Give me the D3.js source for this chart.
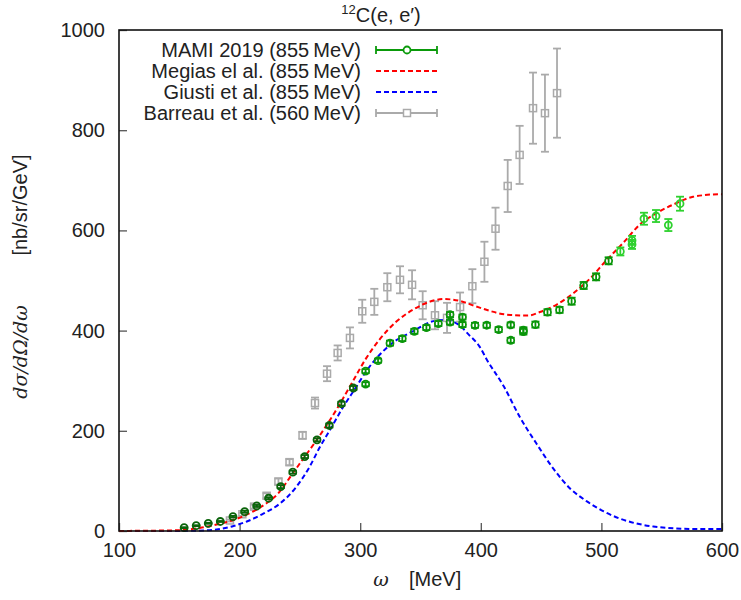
<!DOCTYPE html>
<html>
<head>
<meta charset="UTF-8">
<title>12C(e,e') cross section</title>
<script src="https://cdn.jsdelivr.net/npm/d3@7"></script>
<style>
  body { margin: 0; background: #fff; }
  svg { font-family: "Liberation Sans", Arial, Helvetica, sans-serif; }
</style>
</head>
<body>
<svg id="chart" width="741" height="600"></svg>
<script>
// ---- data: [omega (MeV), dsigma, error] ----
var mamiDark = [
  [154, 6.6, 1], [164, 10.6, 1], [174, 15.4, 1], [184, 19, 1], [194.5, 28.6, 1.5],
  [204.2, 38.6, 2], [214.2, 50, 2], [224.1, 65.4, 2], [234.1, 88.6, 3], [244.1, 117.4, 3],
  [254, 148.6, 3], [264.2, 182, 3], [274.4, 210.6, 4], [284.4, 254, 4], [294.3, 285.4, 4]
];
var mamiMid = [
  [304.5, 293, 4], [304.5, 319, 4], [314.8, 340, 4], [324.7, 375, 5], [334.9, 384, 5],
  [344.9, 398.6, 5], [354.9, 406, 5], [364.8, 414, 5], [374.5, 432, 5], [374.5, 417, 5],
  [384.8, 427, 5], [384.8, 412, 5], [395.2, 410.6, 5], [404.9, 410.7, 5], [414.8, 402, 5],
  [424.8, 411.3, 5], [424.8, 380.7, 5], [435.3, 400.7, 6], [435.3, 398, 6], [445.3, 412, 6],
  [455.3, 436.7, 6], [465.3, 441.3, 6], [475.3, 458.7, 7], [485.3, 490, 7], [495.6, 507.3, 7],
  [506, 539.3, 7]
];
var mamiBright = [
  [515.7, 558, 8], [525.4, 580, 9], [525.4, 572, 9], [535.3, 623.3, 12],
  [545.3, 628.7, 12], [555.5, 610.7, 12], [565.2, 653.3, 14]
];
var barreau = [
  [192, 21, 2], [202.3, 33.4, 3], [212, 48.6, 4], [222.4, 70.3, 5], [232.2, 98.7, 6],
  [241.4, 137.4, 6], [252.2, 191, 7], [262.5, 255.4, 11], [272.5, 314, 15], [281.3, 355.4, 15],
  [291.5, 385.4, 21], [301.7, 438.6, 23], [311.7, 457.4, 26], [322.5, 486.6, 28], [333, 501.4, 27],
  [343, 491.4, 29], [351.8, 450.6, 28], [362, 430.6, 28], [372, 425.4, 30], [382.8, 447, 29],
  [393, 488.6, 34], [403, 537.4, 40], [412.2, 603.4, 42], [422.3, 688.7, 52], [432.2, 750.7, 58],
  [443.3, 844, 71], [453.2, 834, 77], [463.2, 874, 89]
];
var megias = [
  [100, 0], [120, 0.5], [140, 1], [153, 2], [167, 6], [181, 13], [195, 22], [208, 35],
  [222, 55], [232, 75], [242, 108], [253, 145], [264, 182], [282, 249], [293, 295],
  [305, 345], [316, 382], [330, 418], [344, 442], [358, 458], [369, 463], [383, 459],
  [394, 450], [408, 439], [421, 432], [439, 430], [449, 437], [463, 452], [477, 475],
  [491, 505], [504, 540], [518, 575], [532, 612], [546, 635], [560, 652], [576, 667],
  [597, 672], [600, 672]
];
var giusti = [
  [100, 0], [140, 0], [164, 0.5], [181, 3], [195, 10], [206, 19], [220, 35], [233, 54],
  [247, 88], [258, 128], [266, 165], [275, 202], [286, 248], [296, 285], [305, 319],
  [325, 372], [344, 399], [363, 420], [372, 421], [381, 413], [390, 392], [399, 368],
  [405, 342], [419, 289], [432, 229], [446, 175], [460, 125], [474, 85], [488, 59],
  [502, 39], [515, 25], [529, 15], [543, 9], [562, 5], [580, 4], [600, 4]
];
var xTicks = [100, 200, 300, 400, 500, 600];
var yTicks = [0, 200, 400, 600, 800, 1000];
var legendLabels = [
  "MAMI 2019 (855\u2009MeV)",
  "Megias el al. (855\u2009MeV)",
  "Giusti et al. (855\u2009MeV)",
  "Barreau et al. (560\u2009MeV)"
];

var svg = d3.select("#chart");
var plotLeft = 119, plotRight = 722, plotTop = 30, plotBottom = 531;

var x = d3.scaleLinear().domain([100, 600]).range([plotLeft, plotRight]);
var y = d3.scaleLinear().domain([0, 1000]).range([plotBottom, plotTop]);

var fontSize = 20;

// ticks (inward, bottom and left only)
svg.append("g")
  .attr("transform", "translate(0," + plotBottom + ")")
  .call(d3.axisBottom(x).tickValues(xTicks).tickFormat(d3.format("d"))
    .tickSizeInner(-8).tickSizeOuter(0).tickPadding(12))
  .call(function(g) {
    g.select(".domain").remove();
    g.selectAll("line").attr("stroke", "#555").attr("stroke-width", 1.3);
    g.selectAll("text").attr("font-size", fontSize).attr("font-family", null).attr("fill", "#222");
  });

svg.append("g")
  .attr("transform", "translate(" + plotLeft + ",0)")
  .call(d3.axisLeft(y).tickValues(yTicks).tickFormat(d3.format("d"))
    .tickSizeInner(-8).tickSizeOuter(0).tickPadding(14))
  .call(function(g) {
    g.select(".domain").remove();
    g.selectAll("line").attr("stroke", "#555").attr("stroke-width", 1.3);
    g.selectAll("text").attr("font-size", fontSize).attr("font-family", null).attr("fill", "#222");
  });

var plot = svg.append("g");

// curves
var line = d3.line()
  .x(function(d) { return x(d[0]); })
  .y(function(d) { return y(d[1]); })
  .curve(d3.curveMonotoneX);

plot.append("path").datum(giusti)
  .attr("fill", "none").attr("stroke", "#0000ff").attr("stroke-width", 2)
  .attr("stroke-dasharray", "5,3").attr("d", line);

// error bars with caps
function errBars(g, data, color, cap, width) {
  var e = g.selectAll(null).data(data).enter().append("g");
  e.append("line")
    .attr("x1", function(d) { return x(d[0]); }).attr("x2", function(d) { return x(d[0]); })
    .attr("y1", function(d) { return y(d[1] - d[2]); }).attr("y2", function(d) { return y(d[1] + d[2]); })
    .attr("stroke", color).attr("stroke-width", width);
  [-1, 1].forEach(function(s) {
    e.append("line")
      .attr("x1", function(d) { return x(d[0]) - cap; }).attr("x2", function(d) { return x(d[0]) + cap; })
      .attr("y1", function(d) { return y(d[1] + s * d[2]); }).attr("y2", function(d) { return y(d[1] + s * d[2]); })
      .attr("stroke", color).attr("stroke-width", width);
  });
  return e;
}

// Barreau points: grey squares
var bg = errBars(plot.append("g"), barreau, "#aaaaaa", 4, 1.8);
bg.append("rect")
  .attr("x", function(d) { return x(d[0]) - 3.5; })
  .attr("y", function(d) { return y(d[1]) - 3.5; })
  .attr("width", 7).attr("height", 7)
  .attr("fill", "none").attr("stroke", "#aaaaaa").attr("stroke-width", 1.5);

plot.append("path").datum(megias)
  .attr("fill", "none").attr("stroke", "#ff0000").attr("stroke-width", 2)
  .attr("stroke-dasharray", "5,3").attr("d", line);

// MAMI points: green circles
function mami(data, color) {
  var g = errBars(plot.append("g"), data, color, 4, 1.8);
  g.append("circle")
    .attr("cx", function(d) { return x(d[0]); })
    .attr("cy", function(d) { return y(d[1]); })
    .attr("r", 3.5)
    .attr("fill", "none").attr("stroke", color).attr("stroke-width", 1.8);
}
mami(mamiDark, "#0b640b");
mami(mamiMid, "#0a960a");
mami(mamiBright, "#2ed12e");

// frame
svg.append("rect")
  .attr("x", plotLeft).attr("y", plotTop)
  .attr("width", plotRight - plotLeft).attr("height", plotBottom - plotTop)
  .attr("fill", "none").attr("stroke", "#111").attr("stroke-width", 1.6);

// legend
var legY = [50, 71, 92, 113];
var lx1 = 376, lx2 = 437, lmid = 407;
var leg = svg.append("g");
legendLabels.forEach(function(t, i) {
  leg.append("text")
    .attr("x", 361).attr("y", legY[i] + 7)
    .attr("text-anchor", "end").attr("font-size", fontSize).attr("fill", "#222")
    .text(t);
});
// MAMI entry
leg.append("line").attr("x1", lx1).attr("x2", lx2).attr("y1", legY[0]).attr("y2", legY[0])
  .attr("stroke", "#0a9a0a").attr("stroke-width", 1.8);
[lx1, lx2].forEach(function(px) {
  leg.append("line").attr("x1", px).attr("x2", px).attr("y1", legY[0] - 4).attr("y2", legY[0] + 4)
    .attr("stroke", "#0a9a0a").attr("stroke-width", 1.8);
});
leg.append("circle").attr("cx", lmid).attr("cy", legY[0]).attr("r", 3.5)
  .attr("fill", "#fff").attr("stroke", "#0a9a0a").attr("stroke-width", 1.8);
// curves
leg.append("line").attr("x1", lx1).attr("x2", lx2).attr("y1", legY[1]).attr("y2", legY[1])
  .attr("stroke", "#ff0000").attr("stroke-width", 2).attr("stroke-dasharray", "5,3");
leg.append("line").attr("x1", lx1).attr("x2", lx2).attr("y1", legY[2]).attr("y2", legY[2])
  .attr("stroke", "#0000ff").attr("stroke-width", 2).attr("stroke-dasharray", "5,3");
// Barreau entry
leg.append("line").attr("x1", lx1).attr("x2", lx2).attr("y1", legY[3]).attr("y2", legY[3])
  .attr("stroke", "#aaaaaa").attr("stroke-width", 1.8);
[lx1, lx2].forEach(function(px) {
  leg.append("line").attr("x1", px).attr("x2", px).attr("y1", legY[3] - 4).attr("y2", legY[3] + 4)
    .attr("stroke", "#aaaaaa").attr("stroke-width", 1.8);
});
leg.append("rect").attr("x", lmid - 3.5).attr("y", legY[3] - 3.5).attr("width", 7).attr("height", 7)
  .attr("fill", "#fff").attr("stroke", "#aaaaaa").attr("stroke-width", 1.5);

// title
var title = svg.append("text").attr("x", 381).attr("y", 22)
  .attr("text-anchor", "middle").attr("font-size", fontSize).attr("fill", "#222");
title.append("tspan").attr("font-size", 13).attr("dy", -8).text("12");
title.append("tspan").attr("dy", 8).text("C(e, e\u2032)");

// x label
svg.append("text").attr("x", 381).attr("y", 586)
  .attr("text-anchor", "middle").attr("font-size", 19).attr("font-style", "italic")
  .attr("font-family", "DejaVu Serif, serif").attr("fill", "#222").text("\u03c9");
svg.append("text").attr("x", 409).attr("y", 586)
  .attr("font-size", fontSize).attr("fill", "#222").text("[MeV]");

// y label: math part and unit part
svg.append("text")
  .attr("transform", "translate(27,352) rotate(-90)")
  .attr("text-anchor", "middle").attr("font-size", 19).attr("font-style", "italic")
  .attr("font-family", "DejaVu Serif, serif").attr("fill", "#222")
  .text("d\u03c3/d\u03a9/d\u03c9");
svg.append("text")
  .attr("transform", "translate(27,205) rotate(-90)")
  .attr("text-anchor", "middle").attr("font-size", fontSize).attr("fill", "#222")
  .text("[nb/sr/GeV]");
</script>
</body>
</html>
